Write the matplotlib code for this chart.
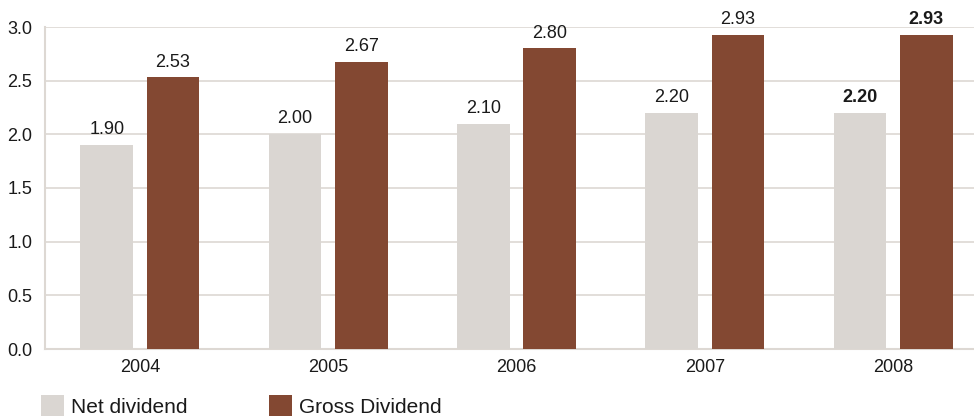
import matplotlib.pyplot as plt
import numpy as np
from matplotlib.patches import Patch

plt.rcParams["font.family"] = ["Liberation Sans", "DejaVu Sans"]

years = ["2004", "2005", "2006", "2007", "2008"]
net_dividend = [1.90, 2.00, 2.10, 2.20, 2.20]
gross_dividend = [2.53, 2.67, 2.80, 2.93, 2.93]
y_ticks = [0.0, 0.5, 1.0, 1.5, 2.0, 2.5, 3.0]

NET_COLOR = "#dad6d2"
GROSS_COLOR = "#834832"
GRID_COLOR = "#ddd8d3"
TEXT_COLOR = "#1a1a1a"

fig = plt.figure(figsize=(9.74, 4.17), dpi=100)
ax = fig.add_axes([45 / 974, 1 - 349 / 417, 929 / 974, 322 / 417])

x = np.arange(len(years))
width = 0.28
offset = 0.176

net_bars = ax.bar(x - offset, net_dividend, width, color=NET_COLOR, zorder=3)
gross_bars = ax.bar(x + offset, gross_dividend, width, color=GROSS_COLOR, zorder=3)

# latest year is printed in bold
last = len(years) - 1
for bars, values in [(net_bars, net_dividend), (gross_bars, gross_dividend)]:
    for i, (bar, value) in enumerate(zip(bars, values)):
        ax.annotate(
            f"{value:.2f}",
            (bar.get_x() + bar.get_width() / 2, value),
            xytext=(0, 5),
            textcoords="offset points",
            ha="center",
            va="bottom",
            fontsize=13,
            fontweight="bold" if i == last else "normal",
            color=TEXT_COLOR,
        )

ax.set_xlim(-0.504, 4.43)
ax.set_ylim(0, 3.0)
ax.set_xticks(x)
ax.set_xticklabels(years)
ax.set_yticks(y_ticks)
ax.set_yticklabels([f"{t:.1f}" for t in y_ticks])
ax.tick_params(axis="both", length=0, labelsize=13, labelcolor=TEXT_COLOR)
ax.tick_params(axis="x", pad=7)
ax.tick_params(axis="y", pad=9)

ax.grid(axis="y", color=GRID_COLOR, linewidth=1.2, zorder=0)
for side in ["top", "right"]:
    ax.spines[side].set_visible(False)
for side in ["left", "bottom"]:
    ax.spines[side].set_color(GRID_COLOR)
    ax.spines[side].set_linewidth(1.5)

handles = [
    Patch(facecolor=NET_COLOR, label="Net dividend"),
    Patch(facecolor=GROSS_COLOR, label="Gross Dividend"),
]
fig.legend(
    handles=handles,
    loc="lower left",
    bbox_to_anchor=(41 / 974, 0.001),
    ncol=2,
    frameon=False,
    fontsize=15,
    borderpad=0,
    borderaxespad=0,
    handlelength=1.1,
    handleheight=1.22,
    handletextpad=0.34,
    columnspacing=3.9,
    labelcolor=TEXT_COLOR,
)

fig.savefig("out.png", dpi=100)
